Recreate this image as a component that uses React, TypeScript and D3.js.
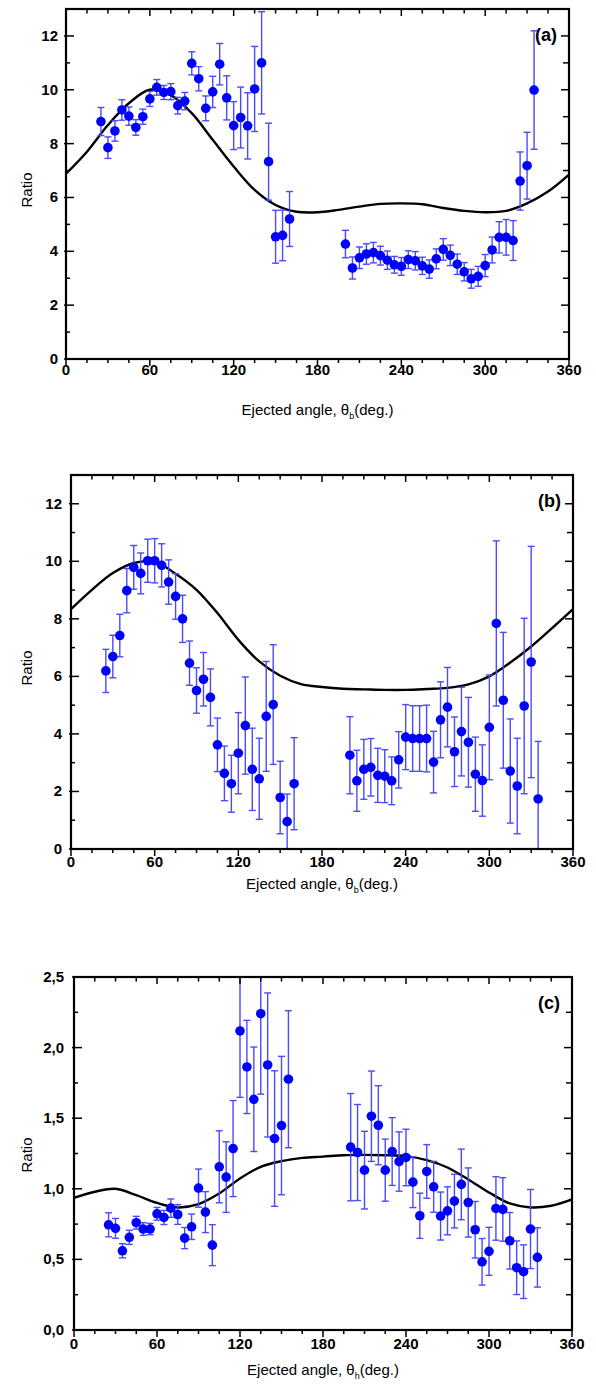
import React from "react";
import * as d3 from "d3";

// measured angles (deg)
const anglesAB = [25, 30, 35, 40, 45, 50, 55, 60, 65, 70, 75, 80, 85, 90, 95, 100, 105, 110, 115, 120, 125, 130, 135, 140, 145, 150, 155, 160,
  200, 205, 210, 215, 220, 225, 230, 235, 240, 245, 250, 255, 260, 265, 270, 275, 280, 285, 290, 295, 300, 305, 310, 315, 320, 325, 330, 335];
const anglesC = [25, 30, 35, 40, 45, 50, 55, 60, 65, 70, 75, 80, 85, 90, 95, 100, 105, 110, 115, 120, 125, 130, 135, 140, 145, 150, 155,
  200, 205, 210, 215, 220, 225, 230, 235, 240, 245, 250, 255, 260, 265, 270, 275, 280, 285, 290, 295, 300, 305, 310, 315, 320, 325, 330, 335];

// panel (a)
const ratioA = [8.82, 7.85, 8.47, 9.25, 9.02, 8.6, 9.0, 9.66, 10.09, 9.9, 9.93, 9.41, 9.58, 10.98, 10.41, 9.31, 9.92, 10.95, 9.7, 8.67, 8.97, 8.66, 10.03, 11.0, 7.33, 4.54, 4.59, 5.2,
  4.27, 3.38, 3.76, 3.9, 3.95, 3.84, 3.67, 3.5, 3.44, 3.69, 3.65, 3.46, 3.34, 3.72, 4.07, 3.85, 3.52, 3.24, 2.98, 3.07, 3.47, 4.05, 4.52, 4.52, 4.4, 6.61, 7.18, 9.99];
const errA = [0.52, 0.4, 0.38, 0.38, 0.34, 0.29, 0.28, 0.28, 0.29, 0.26, 0.3, 0.31, 0.32, 0.43, 0.45, 0.46, 0.58, 0.77, 0.82, 0.89, 1.13, 1.23, 1.58, 1.9, 1.43, 0.98, 0.94, 1.02,
  0.51, 0.41, 0.4, 0.38, 0.38, 0.35, 0.34, 0.31, 0.33, 0.33, 0.34, 0.32, 0.34, 0.37, 0.4, 0.38, 0.38, 0.34, 0.35, 0.37, 0.41, 0.48, 0.58, 0.66, 0.74, 1.08, 1.24, 2.2];

// panel (b)
const ratioB = [6.19, 6.69, 7.42, 8.98, 9.79, 9.58, 10.02, 10.02, 9.86, 9.28, 8.78, 8.0, 6.46, 5.51, 5.9, 5.27, 3.62, 2.63, 2.27, 3.33, 4.29, 2.77, 2.44, 4.61, 5.02, 1.79, 0.95, 2.27,
  3.26, 2.37, 2.77, 2.84, 2.56, 2.53, 2.37, 3.1, 3.89, 3.84, 3.84, 3.84, 3.02, 4.49, 4.93, 3.38, 4.08, 3.71, 2.6, 2.38, 4.23, 7.84, 5.17, 2.71, 2.19, 4.97, 6.5, 1.74];
const errB = [0.75, 0.74, 0.74, 0.77, 0.76, 0.71, 0.75, 0.77, 0.75, 0.77, 0.79, 0.82, 0.77, 0.79, 0.93, 0.99, 0.93, 0.95, 0.99, 1.41, 1.69, 1.43, 1.41, 1.91, 2.08, 1.26, 0.96, 1.6,
  1.34, 1.06, 1.04, 1.0, 0.94, 0.92, 0.83, 0.98, 1.13, 1.14, 1.14, 1.16, 1.07, 1.32, 1.38, 1.21, 1.54, 1.56, 1.29, 1.24, 1.82, 2.87, 2.36, 1.81, 1.66, 3.05, 4.02, 2.0];

// panel (c)
const ratioC = [0.745, 0.72, 0.561, 0.656, 0.76, 0.715, 0.715, 0.823, 0.797, 0.863, 0.818, 0.651, 0.731, 1.005, 0.835, 0.601, 1.156, 1.083, 1.285, 2.118, 1.863, 1.634, 2.24, 1.877, 1.356, 1.448, 1.776,
  1.295, 1.257, 1.132, 1.514, 1.45, 1.132, 1.264, 1.193, 1.222, 1.047, 0.809, 1.123, 1.014, 0.807, 0.844, 0.913, 1.031, 0.903, 0.71, 0.483, 0.557, 0.861, 0.854, 0.632, 0.441, 0.413, 0.715, 0.514];
const errC = [0.085, 0.07, 0.05, 0.05, 0.045, 0.045, 0.04, 0.045, 0.05, 0.065, 0.07, 0.075, 0.09, 0.135, 0.145, 0.145, 0.255, 0.25, 0.34, 0.47, 0.33, 0.37, 0.57, 0.51, 0.48, 0.49, 0.485,
  0.38, 0.34, 0.275, 0.32, 0.28, 0.22, 0.24, 0.21, 0.2, 0.18, 0.16, 0.19, 0.18, 0.17, 0.17, 0.19, 0.25, 0.245, 0.2, 0.165, 0.17, 0.225, 0.225, 0.2, 0.19, 0.19, 0.28, 0.21];

// theory curves, read every 15 deg
const curveAngles = [0, 15, 30, 45, 60, 75, 90, 105, 120, 135, 150, 165, 180, 195, 210, 225, 240, 255, 270, 285, 300, 315, 330, 345, 360];
const curveA = [6.88, 7.7, 8.69, 9.5, 10.0, 9.8, 9.13, 8.14, 7.15, 6.28, 5.72, 5.47, 5.45, 5.54, 5.66, 5.76, 5.78, 5.75, 5.61, 5.5, 5.45, 5.5, 5.78, 6.22, 6.85];
const curveB = [8.34, 9.01, 9.59, 9.94, 9.98, 9.57, 9.01, 8.2, 7.27, 6.52, 6.02, 5.73, 5.63, 5.57, 5.55, 5.53, 5.53, 5.56, 5.6, 5.72, 6.0, 6.48, 7.04, 7.68, 8.34];
const curveC = [0.936, 0.979, 1.0, 0.955, 0.9, 0.868, 0.891, 0.967, 1.073, 1.156, 1.196, 1.219, 1.228, 1.238, 1.24, 1.238, 1.231, 1.203, 1.151, 1.066, 0.974, 0.896, 0.868, 0.88, 0.925];

const xMajor = [0, 60, 120, 180, 240, 300, 360];

const FONT = "'Liberation Sans', Arial, sans-serif";

type PanelProps = {
  id: string;
  label: string;
  sub: string;
  left: number; right: number; top: number; bottom: number;
  yMax: number; yMajorStep: number; yMinorStep: number; comma: boolean;
  angles: number[]; ratio: number[]; err: number[]; curve: number[];
  xLabelY: number; titleY: number; ratioY: number; yLabelX: number;
};

function Panel(p: PanelProps) {
  const x = d3.scaleLinear().domain([0, 360]).range([p.left, p.right]);
  const y = d3.scaleLinear().domain([0, p.yMax]).range([p.bottom, p.top]);
  const xMinor = d3.range(0, 360.001, 15);
  const yMinor = d3.range(0, p.yMax + 0.0001, p.yMinorStep);
  const yMajor = d3.range(0, p.yMax + 0.0001, p.yMajorStep);
  const fmt = p.comma ? (v: number) => d3.format(".1f")(v).replace(".", ",") : d3.format("d");
  const line = d3.line<number>()
    .x((_, i) => x(curveAngles[i]))
    .y(d => y(d))
    .curve(d3.curveCatmullRom);
  const clip = `clip-${p.id}`;
  const cap = 3.5;
  return (
    <g>
      <defs>
        <clipPath id={clip}>
          <rect x={p.left} y={p.top} width={p.right - p.left} height={p.bottom - p.top} />
        </clipPath>
      </defs>
      <g clipPath={`url(#${clip})`}>
        <path d={line(p.curve) || ""} fill="none" stroke="#000" strokeWidth={2.4} />
        {p.angles.map((a, i) => {
          const cx = x(a);
          const y1 = y(p.ratio[i] + p.err[i]);
          const y0 = y(p.ratio[i] - p.err[i]);
          return (
            <g key={i} stroke="#4a4aff" strokeWidth={1.4}>
              <line x1={cx} x2={cx} y1={y1} y2={y0} />
              <line x1={cx - cap} x2={cx + cap} y1={y1} y2={y1} />
              <line x1={cx - cap} x2={cx + cap} y1={y0} y2={y0} />
            </g>
          );
        })}
        {p.angles.map((a, i) => (
          <circle key={i} cx={x(a)} cy={y(p.ratio[i])} r={4.8} fill="#0000ff" />
        ))}
      </g>
      {/* ticks */}
      <g stroke="#000" strokeWidth={1.5}>
        {xMinor.map(v => {
          const major = v % 60 === 0;
          return (
            <g key={v}>
              <line x1={x(v)} x2={x(v)} y1={p.bottom} y2={p.bottom + (major ? 7 : 4)} />
              <line x1={x(v)} x2={x(v)} y1={p.top} y2={p.top + (major ? 7 : 4.5)} />
            </g>
          );
        })}
        {yMinor.map(v => {
          const major = Math.abs(v / p.yMajorStep - Math.round(v / p.yMajorStep)) < 1e-6;
          return (
            <g key={v}>
              <line x1={p.left - (major ? 2 : 0)} x2={p.left + (major ? 8 : 4)} y1={y(v)} y2={y(v)} />
              <line x1={p.right} x2={p.right - (major ? 8 : 6)} y1={y(v)} y2={y(v)} />
            </g>
          );
        })}
      </g>
      <rect x={p.left} y={p.top} width={p.right - p.left} height={p.bottom - p.top} fill="none" stroke="#000" strokeWidth={2.2} />
      <g fontFamily={FONT} fontWeight="bold" fontSize={15} fill="#000">
        {xMajor.map(v => (
          <text key={v} x={x(v)} y={p.xLabelY} textAnchor="middle">{v}</text>
        ))}
        {yMajor.map(v => (
          <text key={v} x={p.yLabelX} y={y(v) + 5} textAnchor="end">{fmt(v)}</text>
        ))}
        <text x={p.right - 12} y={y(p.yMax) + 32} textAnchor="end" fontSize={18}>{p.label}</text>
      </g>
      <g fontFamily={FONT} fontSize={15} fill="#000">
        <text x={(p.left + p.right) / 2} y={p.titleY} textAnchor="middle">
          Ejected angle, θ<tspan fontSize={9} dy={4}>{p.sub}</tspan><tspan dy={-4}>(deg.)</tspan>
        </text>
        <text transform={`translate(${32},${p.ratioY}) rotate(-90)`} textAnchor="middle">Ratio</text>
      </g>
    </g>
  );
}

export default function App() {
  return (
    <svg width={596} height={1385} style={{ position: "absolute", left: 0, top: 0, background: "#fff" }}>
      <rect width={596} height={1385} fill="#fff" />
      <Panel id="a" label="(a)" sub="b" left={66} right={569} top={9} bottom={359}
        yMax={13} yMajorStep={2} yMinorStep={1} comma={false}
        angles={anglesAB} ratio={ratioA} err={errA} curve={curveA}
        xLabelY={375} titleY={415} ratioY={190} yLabelX={58} />
      <Panel id="b" label="(b)" sub="b" left={71} right={573} top={475} bottom={849}
        yMax={13} yMajorStep={2} yMinorStep={1} comma={false}
        angles={anglesAB} ratio={ratioB} err={errB} curve={curveB}
        xLabelY={867} titleY={889} ratioY={668} yLabelX={62} />
      <Panel id="c" label="(c)" sub="h" left={74} right={572} top={977} bottom={1330}
        yMax={2.5} yMajorStep={0.5} yMinorStep={0.25} comma={true}
        angles={anglesC} ratio={ratioC} err={errC} curve={curveC}
        xLabelY={1349} titleY={1375} ratioY={1155} yLabelX={64} />
    </svg>
  );
}
